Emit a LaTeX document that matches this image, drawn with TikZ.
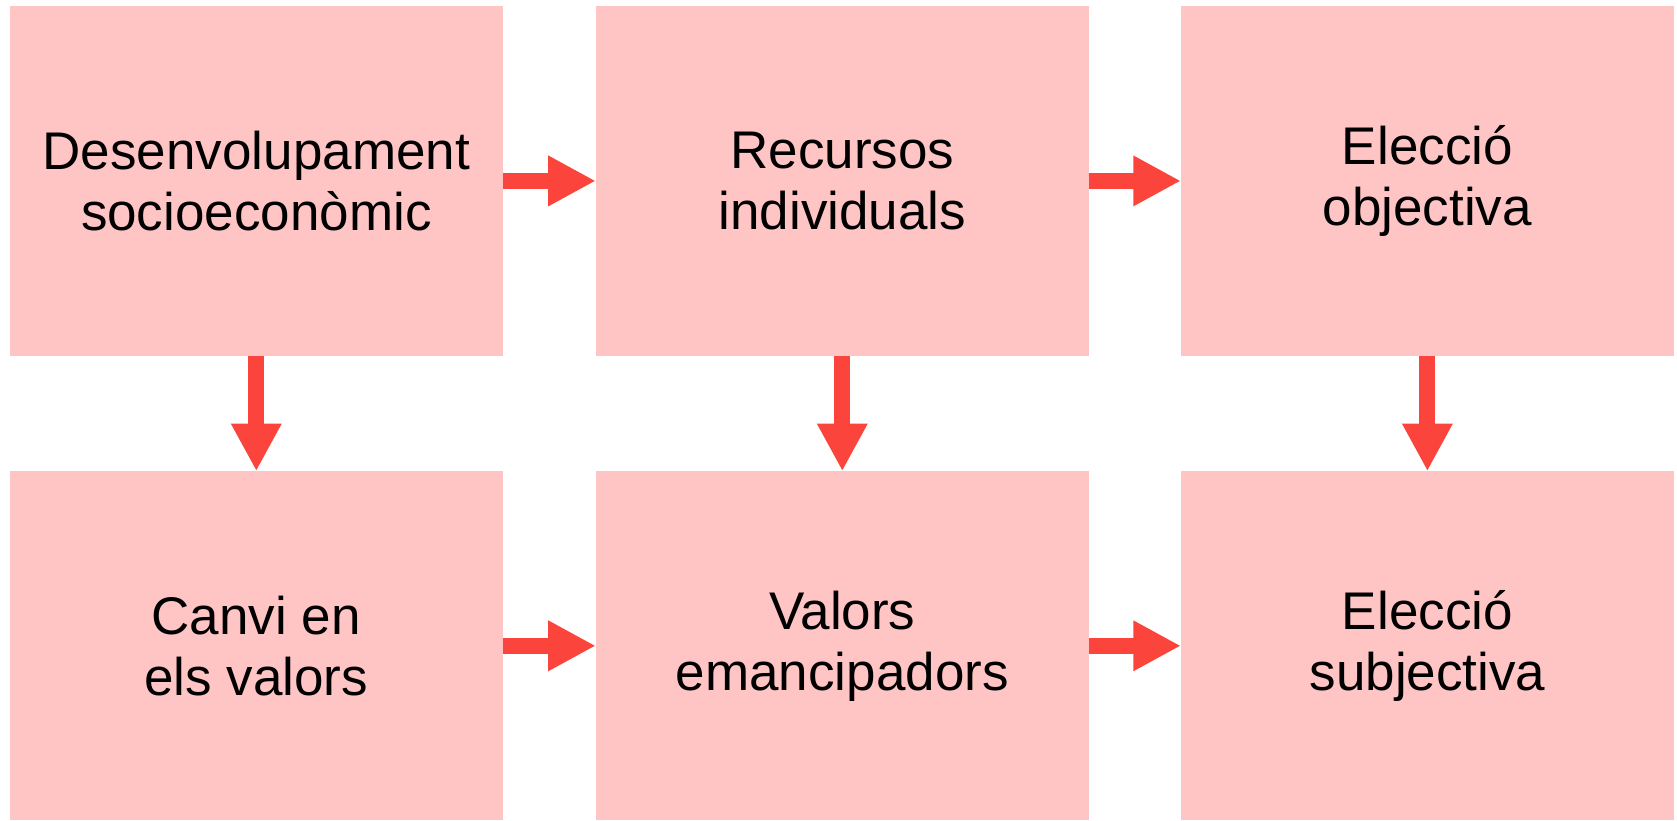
\documentclass[tikz,border=0pt]{standalone}
\usepackage{fontspec}
\setmainfont{Liberation Sans}
\usetikzlibrary{arrows.meta}
\definecolor{boxpink}{RGB}{255,196,196}
\definecolor{arrowred}{RGB}{250,68,60}
\begin{document}
\begin{tikzpicture}[x=0.5pt,y=-0.5pt,
  stepbox/.style={fill=boxpink,draw=none,minimum width=246.5pt,minimum height=174.6pt,inner sep=0pt,outer sep=0pt,align=center,font=\fontsize{26.5pt}{30.5pt}\selectfont},
  bigarrow/.style={draw=arrowred,line width=8pt,-{Triangle[width=23.6pt,length=23.8pt,fill=arrowred]}}]
\useasboundingbox (0,0) rectangle (1677,820);
\node[stepbox] (a) at (256.3,180.9) {Desenvolupament\\socioeconòmic};
\node[stepbox] (b) at (842.3,180.9) {Recursos\\individuals};
\node[stepbox] (c) at (1427.4,180.9) {Elecció\\objectiva};
\node[stepbox] (d) at (256.3,645.8) {Canvi en\\els valors};
\node[stepbox] (e) at (842.3,645.8) {Valors\\emancipadors};
\node[stepbox] (f) at (1427.4,645.8) {Elecció\\subjectiva};
\draw[bigarrow] (a.east) -- (b.west);
\draw[bigarrow] (b.east) -- (c.west);
\draw[bigarrow] (d.east) -- (e.west);
\draw[bigarrow] (e.east) -- (f.west);
\draw[bigarrow] (a.south) -- (d.north);
\draw[bigarrow] (b.south) -- (e.north);
\draw[bigarrow] (c.south) -- (f.north);
\end{tikzpicture}
\end{document}
